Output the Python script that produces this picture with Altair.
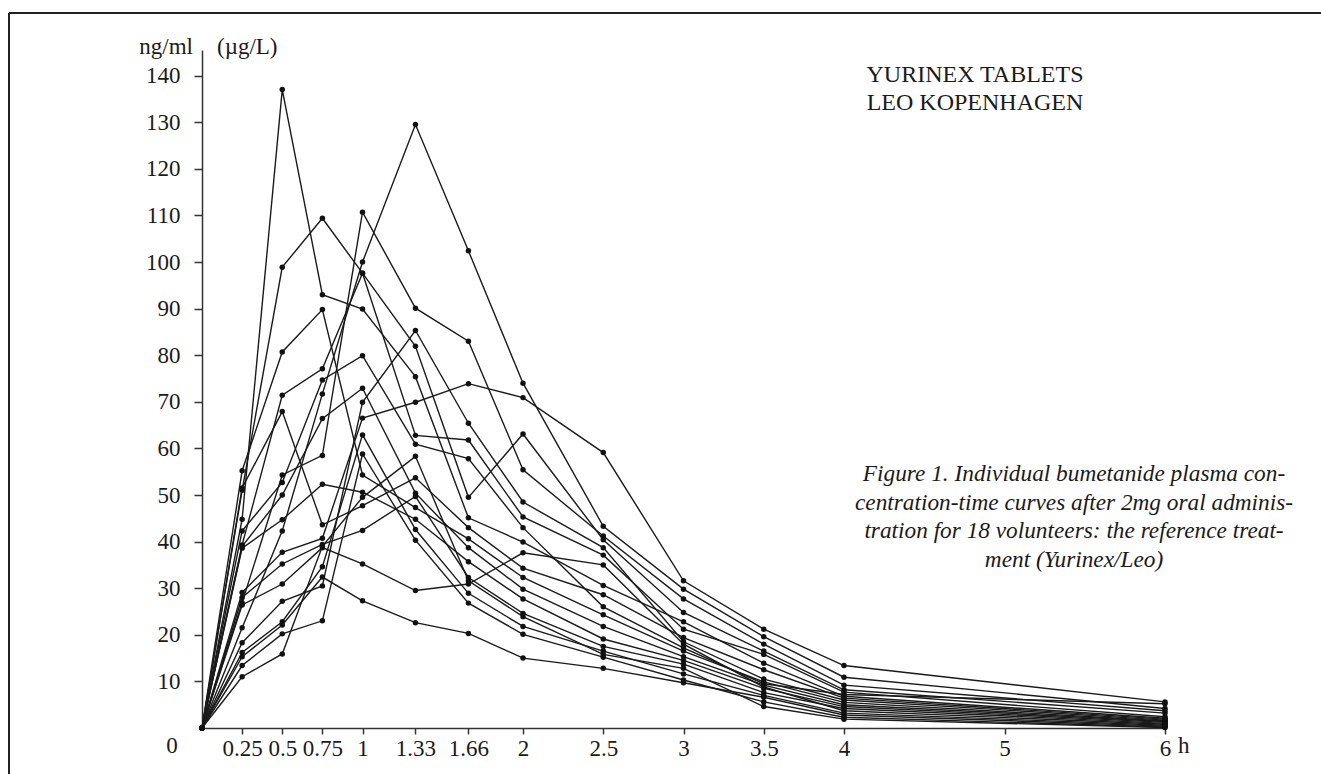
import altair as alt
import pandas as pd

# sampling times (h)
times = [0, 0.25, 0.5, 0.75, 1, 1.33, 1.66, 2, 2.5, 3, 3.5, 4, 6]

# individual concentration curves (ng/ml)
s01 = [0, 44.8, 137.0, 93.0, 89.9, 75.4, 45.1, 39.9, 30.6, 22.8, 13.9, 6.8, 2.1]
s02 = [0, 21.5, 42.3, 71.7, 100.0, 129.5, 102.4, 74.0, 43.3, 29.8, 19.6, 10.9, 4.2]
s03 = [0, 26.9, 54.3, 58.5, 110.7, 90.1, 83.0, 55.4, 41.2, 27.7, 18.0, 9.2, 3.7]
s04 = [0, 51.0, 98.9, 109.4, 97.6, 81.9, 49.5, 63.1, 40.4, 24.8, 16.5, 8.2, 3.2]
s05 = [0, 39.3, 71.4, 77.1, 97.6, 62.8, 61.8, 45.3, 37.1, 21.2, 15.8, 7.7, 2.4]
s06 = [0, 55.2, 80.7, 89.8, 54.3, 47.3, 40.6, 32.3, 24.3, 16.5, 9.9, 5.5, 1.5]
s07 = [0, 29.1, 37.7, 40.7, 66.5, 69.9, 73.9, 70.9, 59.1, 31.6, 21.2, 13.4, 5.6]
s08 = [0, 51.5, 67.9, 43.6, 47.7, 53.7, 43.0, 34.3, 28.6, 19.4, 12.5, 6.4, 1.9]
s09 = [0, 18.3, 27.2, 30.5, 69.9, 85.3, 65.4, 48.5, 38.7, 18.5, 10.5, 6.0, 1.7]
s10 = [0, 42.3, 52.7, 74.7, 79.9, 60.9, 57.8, 43.0, 26.0, 17.2, 9.5, 7.2, 5.2]
s11 = [0, 39.0, 50.0, 66.4, 72.9, 50.4, 38.7, 29.8, 21.8, 15.3, 9.2, 5.0, 1.4]
s12 = [0, 38.6, 44.7, 52.3, 50.6, 44.8, 35.7, 27.7, 19.1, 14.5, 8.5, 4.6, 1.2]
s13 = [0, 28.0, 35.2, 39.4, 42.4, 49.7, 32.3, 24.6, 17.5, 13.7, 7.6, 4.2, 1.0]
s14 = [0, 26.4, 30.9, 38.7, 35.2, 29.5, 30.9, 37.6, 35.0, 18.0, 8.8, 3.7, 0.8]
s15 = [0, 16.2, 22.8, 34.6, 62.9, 42.6, 28.9, 21.8, 16.5, 11.6, 7.0, 3.2, 0.6]
s16 = [0, 15.3, 22.1, 32.4, 27.3, 22.6, 20.3, 15.0, 12.8, 9.7, 6.6, 2.8, 0.4]
s17 = [0, 13.4, 20.2, 23.0, 58.8, 40.3, 26.8, 20.1, 15.2, 10.3, 5.6, 2.3, 0.2]
s18 = [0, 11.0, 15.9, 39.0, 49.5, 58.3, 31.6, 23.9, 15.8, 12.8, 4.6, 1.9, 0.1]

subjects = [s01, s02, s03, s04, s05, s06, s07, s08, s09,
            s10, s11, s12, s13, s14, s15, s16, s17, s18]

x_ticks = [0.25, 0.5, 0.75, 1, 1.33, 1.66, 2, 2.5, 3, 3.5, 4, 5, 6]
y_ticks = [10, 20, 30, 40, 50, 60, 70, 80, 90, 100, 110, 120, 130, 140]

title_lines = ["YURINEX TABLETS", "LEO KOPENHAGEN"]
caption_lines = [
    "Figure 1. Individual bumetanide plasma con-",
    "centration-time curves after 2mg oral adminis-",
    "tration for 18 volunteers: the reference treat-",
    "ment (Yurinex/Leo)",
]

rows = []
for i, vals in enumerate(subjects, start=1):
    for t, c in zip(times, vals):
        rows.append({"subject": f"S{i:02d}", "t": t, "c": c})
df = pd.DataFrame(rows)

FONT = "Liberation Serif"
INK = "#1a1a1a"

xenc = alt.X(
    "t:Q",
    scale=alt.Scale(domain=[0, 6], nice=False, zero=False),
    axis=alt.Axis(
        values=x_ticks, format=".2~f", title=None, grid=False,
        labelOverlap=False, labelFlush=False, tickSize=6,
        labelPadding=3, labelFontSize=23,
    ),
)
yenc = alt.Y(
    "c:Q",
    scale=alt.Scale(domain=[0, 145.5], nice=False),
    axis=alt.Axis(
        values=y_ticks, title=None, grid=False, labelOverlap=False,
        labelFlush=False, tickSize=8, labelPadding=14, labelFontSize=23,
    ),
)

base = alt.Chart(df)
lines = base.mark_line(color=INK, strokeWidth=1.4).encode(
    x=xenc, y=yenc, detail="subject:N"
)
points = base.mark_circle(size=30, color="#111111", opacity=1).encode(
    x=xenc, y=yenc
)

one = pd.DataFrame({"a": [0]})
deco = alt.Chart(one)

frame_left = deco.mark_rule(color="#222222", strokeWidth=2).encode(
    x=alt.value(-193), y=alt.value(-37), y2=alt.value(724)
)
frame_top = deco.mark_rule(color="#222222", strokeWidth=2).encode(
    x=alt.value(-193), x2=alt.value(1119), y=alt.value(-37)
)

txt = dict(font=FONT, color=INK, baseline="middle")
zero_lbl = deco.mark_text(fontSize=23, align="center", **txt).encode(
    x=alt.value(-30), y=alt.value(696), text=alt.value("0")
)
unit_left = deco.mark_text(fontSize=23, align="right", **txt).encode(
    x=alt.value(-9), y=alt.value(-3), text=alt.value("ng/ml")
)
unit_right = deco.mark_text(fontSize=23, align="left", **txt).encode(
    x=alt.value(15), y=alt.value(-3), text=alt.value("(µg/L)")
)
h_lbl = alt.Chart(pd.DataFrame({"t": [6]})).mark_text(
    fontSize=23, align="left", dx=13, **txt
).encode(
    x=alt.X("t:Q", scale=alt.Scale(domain=[0, 6], nice=False, zero=False)),
    y=alt.value(696), text=alt.value("h"),
)

layers = [lines, points, frame_left, frame_top, zero_lbl, unit_left, unit_right, h_lbl]

for k, line in enumerate(title_lines):
    layers.append(
        deco.mark_text(fontSize=24, align="center", **txt).encode(
            x=alt.value(773), y=alt.value(25 + 28 * k), text=alt.value(line)
        )
    )
for k, line in enumerate(caption_lines):
    layers.append(
        deco.mark_text(fontSize=23.3, align="center", fontStyle="italic", **txt).encode(
            x=alt.value(872), y=alt.value(424 + 28.7 * k), text=alt.value(line)
        )
    )

chart = (
    alt.layer(*layers)
    .properties(
        width=963,
        height=678,
        autosize=alt.AutoSizeParams(type="none"),
        padding={"left": 202, "top": 50, "right": 156, "bottom": 46},
        background="white",
    )
    .configure_view(stroke=None)
    .configure_axis(
        labelFont=FONT, labelColor=INK, domainColor="#333333",
        domainWidth=1.5, tickColor="#333333", tickWidth=1.5,
    )
)

chart.save("out.html", embed_options={"renderer": "svg", "actions": False})
